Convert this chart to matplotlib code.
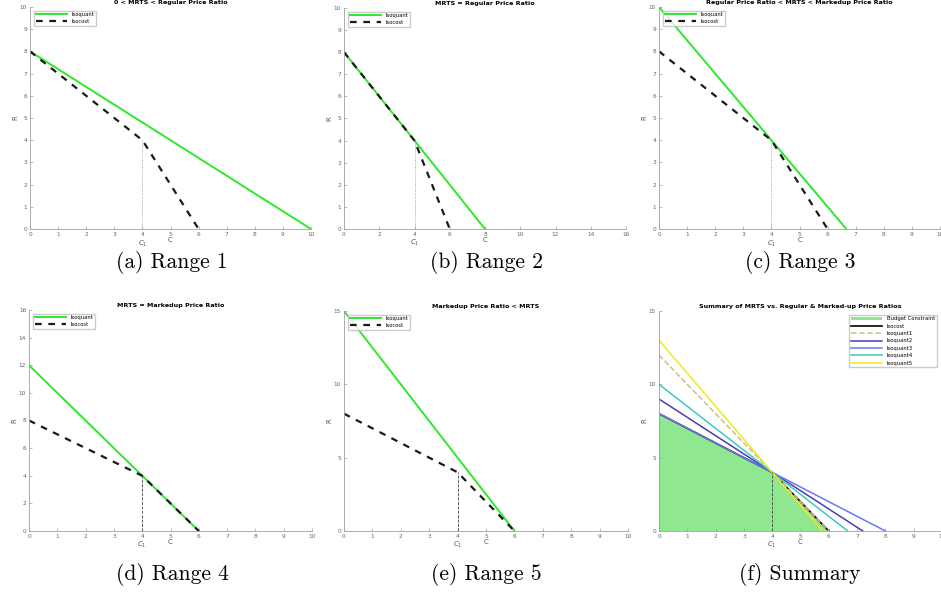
import numpy as np
import matplotlib
matplotlib.use("Agg")
import matplotlib.pyplot as plt

# isocost (kinked budget line) shared by all panels
isocost_x = [0, 4, 6]
isocost_y = [8, 4, 0]
kink_x = 4
kink_y = 4

# isoquant end points per panel: (x at R=0, R at C=0)
panel_titles = ["0 < MRTS < Regular Price Ratio",
                "MRTS = Regular Price Ratio",
                "Regular Price Ratio < MRTS < Markedup Price Ratio",
                "MRTS = Markedup Price Ratio",
                "Markedup Price Ratio < MRTS"]
isoquant_x0 = [10, 8, 6.667, 6, 6]
isoquant_y0 = [8, 8, 10, 12, 15]
panel_xmax = [10, 16, 10, 10, 10]
panel_ymax = [10, 10, 10, 16, 15]
captions = ["(a) Range 1", "(b) Range 2", "(c) Range 3",
            "(d) Range 4", "(e) Range 5", "(f) Summary"]

# summary panel
sum_names = ["Isoquant1", "Isoquant2", "Isoquant3", "Isoquant4", "Isoquant5"]
sum_x0 = [6, 7.2, 8, 6.667, 5.78]
sum_y0 = [12, 9, 8, 10, 13]
sum_colors = ["#c8c08a", "#4a3cb4", "#6a78f0", "#3cc8c0", "#f2e81e"]
sum_styles = ["--", "-", "-", "-", "-"]

W, H = 941, 603
fig = plt.figure(figsize=(W / 100, H / 100), dpi=100)

# axes boxes in pixels: left, top, right, bottom
boxes = [(30, 7, 311, 229), (344, 8, 626, 229), (659, 7, 940, 229),
         (29, 310, 312, 531), (344, 311, 628, 531), (659, 311, 942, 531)]
cap_pos = [(172, 262), (486, 262), (800, 262), (172, 575), (486, 575), (800, 575)]


def make_ax(box):
    l, t, r, b = box
    ax = fig.add_axes([l / W, 1 - b / H, (r - l) / W, (b - t) / H])
    for s in ["top", "right"]:
        ax.spines[s].set_visible(False)
    for s in ["left", "bottom"]:
        ax.spines[s].set_color("#a0a0a0")
        ax.spines[s].set_linewidth(0.6)
    ax.tick_params(direction="in", length=2, width=0.5, colors="#a0a0a0",
                   labelsize=4.2, labelcolor="#666666", pad=2)
    return ax


def finish(ax, title, xmax, ymax, ystep):
    ax.set_xlim(0, xmax)
    ax.set_ylim(0, ymax)
    ax.set_yticks(np.arange(0, ymax + 0.1, ystep))
    ax.set_title(title, fontsize=4.6, fontweight="bold", pad=2)
    ax.set_xlabel("C", fontsize=5, color="#555555", labelpad=0)
    ax.set_ylabel("R", fontsize=5, color="#555555", labelpad=1)
    ax.text(kink_x, -0.042 * ymax, "$C_1$", fontsize=5, color="#555555",
            ha="center", va="top")


for i in range(5):
    ax = make_ax(boxes[i])
    ax.plot([0, isoquant_x0[i]], [isoquant_y0[i], 0], color="#2ee82e",
            lw=1.4, label="Isoquant")
    ax.plot(isocost_x, isocost_y, color="#1a1a1a", lw=1.6, ls=(0, (3, 3)),
            label="Isocost")
    if i < 3:
        ax.plot([kink_x, kink_x], [0, kink_y], color="#888888", lw=0.6, ls=":")
    else:
        ax.plot([kink_x, kink_x], [0, kink_y], color="#444444", lw=0.6, ls="--")
    ystep = 2 if panel_ymax[i] == 16 else (5 if panel_ymax[i] == 15 else 1)
    xticks = np.arange(0, panel_xmax[i] + 0.1, 2 if panel_xmax[i] == 16 else 1)
    ax.set_xticks(xticks)
    finish(ax, panel_titles[i], panel_xmax[i], panel_ymax[i], ystep)
    ax.legend(loc="upper left", fontsize=3.8, handlelength=6, frameon=True,
              fancybox=False, edgecolor="#c0c0c0", borderpad=0.3,
              labelspacing=0.35, bbox_to_anchor=(0.005, 0.995))

# summary
ax = make_ax(boxes[5])
ax.fill([0, 0, isocost_x[1], isocost_x[2]], [0, isocost_y[0], isocost_y[1], 0],
        color="#8fe88f", lw=0, label="Budget Constraint")
ax.plot(isocost_x, isocost_y, color="black", lw=1.2, label="Isocost")
for name, x0, y0, c, ls in zip(sum_names, sum_x0, sum_y0, sum_colors, sum_styles):
    ax.plot([0, x0], [y0, 0], color=c, lw=1.1, ls=ls, label=name)
ax.plot([kink_x, kink_x], [0, kink_y], color="#444444", lw=0.6, ls="--")
ax.set_xticks(np.arange(0, 11, 1))
finish(ax, "Summary of MRTS vs. Regular & Marked-up Price Ratios", 10, 15, 5)
ax.legend(loc="upper right", fontsize=3.8, handlelength=6, frameon=True,
          fancybox=False, edgecolor="#c0c0c0", borderpad=0.3,
          labelspacing=0.45, bbox_to_anchor=(0.99, 0.995))

for (cx, cy), cap in zip(cap_pos, captions):
    fig.text(cx / W, 1 - cy / H, cap, fontsize=15.5, family="cmr10",
             ha="center", va="center")

fig.savefig("out.png", dpi=100)
